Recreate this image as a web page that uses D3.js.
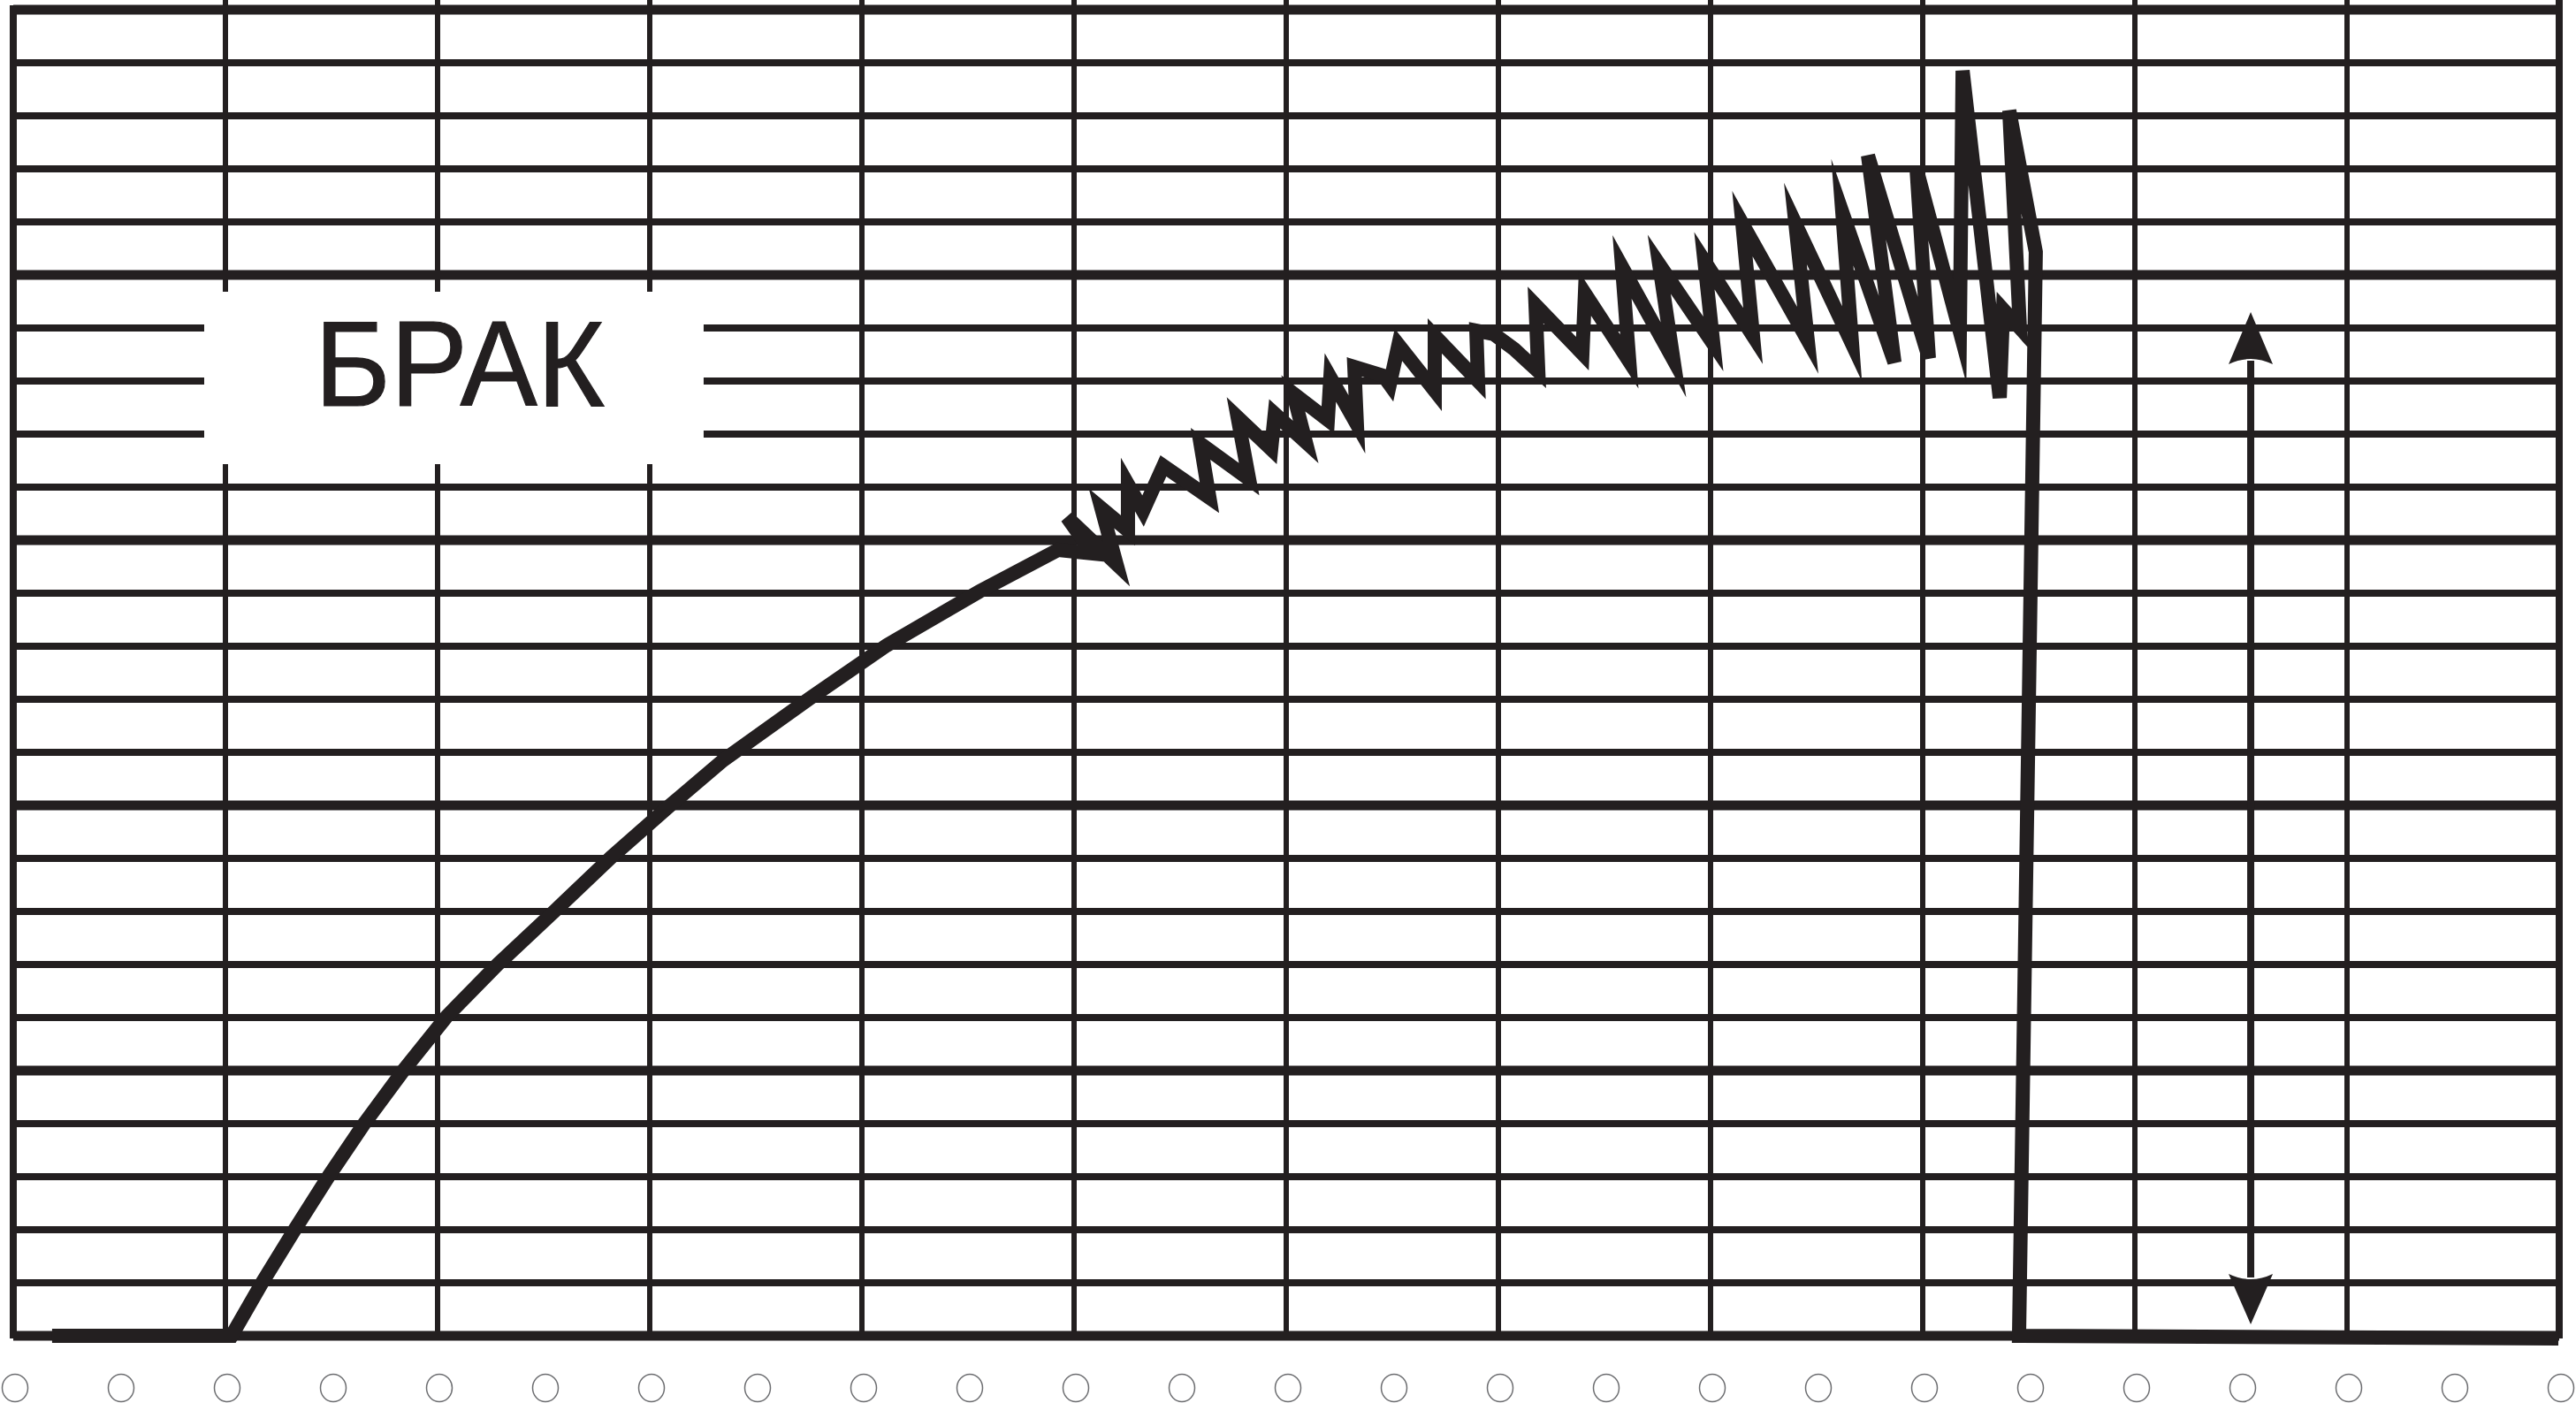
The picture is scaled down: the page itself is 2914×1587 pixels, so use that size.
<!DOCTYPE html>
<html><head><meta charset="utf-8">
<script src="https://cdn.jsdelivr.net/npm/d3@7"></script>
<style>html,body{margin:0;padding:0;background:#fff;overflow:hidden}</style>
</head><body>
<svg id="chart" width="2914" height="1587"></svg>
<script>
// ---- data (chart units: x = grid columns, y = grid rows) ----
const colTicks = d3.range(0, 13);            // 12 major columns
const rowTicks = d3.range(0, 26);            // 25 rows, every 5th is bold
const holeTicks = d3.range(0, 25).map(k => k / 2); // perforation holes

// baseline + smooth rise
const riseT = [0.183, 1.029, 1.175, 1.329, 1.488, 1.654, 1.842, 2.042, 2.283, 2.554, 2.817, 3.096, 3.346, 3.754, 4.117, 4.554, 4.925];
const riseV = [0, 0, 1.017, 2.017, 3.017, 4.0, 5.017, 6.017, 7.0, 8.017, 9.017, 10.0, 10.85, 12.017, 13.017, 14.033, 14.817];

// chatter (zig-zag) section
const chatterT = [5.088, 4.967, 5.2, 5.129, 5.254, 5.254, 5.325, 5.421, 5.638, 5.596, 5.825, 5.771, 5.929, 5.946, 6.092, 6.033, 6.196, 6.208, 6.333, 6.321, 6.458, 6.488, 6.529, 6.7, 6.7, 6.904, 6.896, 6.979, 7.075, 7.188,
  7.175, 7.396, 7.408, 7.617, 7.583, 7.825, 7.758, 8.013, 7.971, 8.2, 8.15, 8.458, 8.4, 8.667, 8.621, 8.867, 8.742, 9.029, 8.971, 9.175, 9.188, 9.363, 9.379, 9.458, 9.408, 9.533];
const chatterV = [14.75, 15.433, 14.55, 15.6, 15.183, 16.05, 15.55, 16.4, 15.8, 16.817, 16.15, 17.317, 16.717, 17.383, 16.85, 17.767, 17.267, 18.067, 17.183, 18.267, 18.1, 17.933, 18.683, 17.817, 18.85, 18.0, 18.95, 18.883, 18.6, 18.183,
  19.433, 18.517, 19.65, 18.367, 20.15, 18.4, 20.2, 18.7, 20.267, 18.85, 20.967, 18.767, 20.967, 18.7, 21.183, 18.35, 22.25, 18.433, 22.0, 18.933, 23.85, 17.683, 19.35, 19.0, 23.1, 20.433];

// break and tail
const dropT = [9.454, 11.996];
const dropV = [0, -0.05];

// label and measured range arrow
const labelText = "БРАК";
const rangeT = 10.546, rangeTop = 19.3, rangeBottom = 0.217;

// ---- drawing ----
const ink = "#231f20";
const svg = d3.select("#chart");
const x = d3.scaleLinear().domain([0, 12]).range([15, 2895]);
const y = d3.scaleLinear().domain([0, 25]).range([1511, 11]);

svg.append("rect").attr("width", 2914).attr("height", 1587).attr("fill", "#fff");

// horizontal grid
svg.append("g").selectAll("line").data(rowTicks).join("line")
  .attr("x1", x(0)).attr("x2", x(12))
  .attr("y1", d => y(d)).attr("y2", d => y(d))
  .attr("stroke", ink).attr("stroke-width", d => d % 5 === 0 ? 11 : 8);

// vertical grid
svg.append("g").selectAll("line").data(colTicks).join("line")
  .attr("x1", d => x(d)).attr("x2", d => x(d))
  .attr("y1", d => d === 0 ? y(25) - 5 : 0).attr("y2", d => y(0) + (d === 0 || d === 12 ? 3 : 0))
  .attr("stroke", ink).attr("stroke-width", d => d === 0 || d === 12 ? 8 : 6);

// label box
const bx0 = x(0.9), bx1 = x(3.254), by0 = y(19.683), by1 = y(16.433);
svg.append("rect").attr("x", bx0).attr("y", by0).attr("width", bx1 - bx0).attr("height", by1 - by0)
  .attr("rx", 18).attr("fill", "#fff");
svg.append("text").text(labelText)
  .attr("x", x(2.104)).attr("y", y(17.533))
  .attr("text-anchor", "middle")
  .attr("font-family", "'Liberation Sans', Arial, sans-serif")
  .attr("font-size", 137)
  .attr("textLength", 328).attr("lengthAdjust", "spacingAndGlyphs")
  .attr("fill", ink).attr("stroke", ink).attr("stroke-width", 1.2);

// record trace
const pts = [];
riseT.forEach((t, i) => pts.push([t, riseV[i]]));
chatterT.forEach((t, i) => pts.push([t, chatterV[i]]));
dropT.forEach((t, i) => pts.push([t, dropV[i]]));
const line = d3.line().x(d => x(d[0])).y(d => y(d[1]));
svg.append("path").attr("d", line(pts))
  .attr("fill", "none").attr("stroke", ink).attr("stroke-width", 16)
  .attr("stroke-linejoin", "miter").attr("stroke-miterlimit", 8).attr("stroke-linecap", "butt");

// range arrow
const ax = x(rangeT), yTop = y(rangeTop), yBot = y(rangeBottom);
svg.append("line").attr("x1", ax).attr("x2", ax).attr("y1", yTop + 55).attr("y2", yBot - 53)
  .attr("stroke", ink).attr("stroke-width", 8);
svg.append("path")
  .attr("d", `M${ax},${yTop} L${ax + 25},${yTop + 59} Q${ax},${yTop + 47} ${ax - 25},${yTop + 59} Z`)
  .attr("fill", ink);
svg.append("path")
  .attr("d", `M${ax},${yBot} L${ax + 25},${yBot - 57} Q${ax},${yBot - 45} ${ax - 25},${yBot - 57} Z`)
  .attr("fill", ink);

// perforation holes
svg.append("g").selectAll("ellipse").data(holeTicks).join("ellipse")
  .attr("cx", d => x(d) + 2).attr("cy", y(0) + 59)
  .attr("rx", 14.5).attr("ry", 15.5)
  .attr("fill", "none").attr("stroke", "#6d6e71").attr("stroke-width", 1.5);
</script>
</body></html>
